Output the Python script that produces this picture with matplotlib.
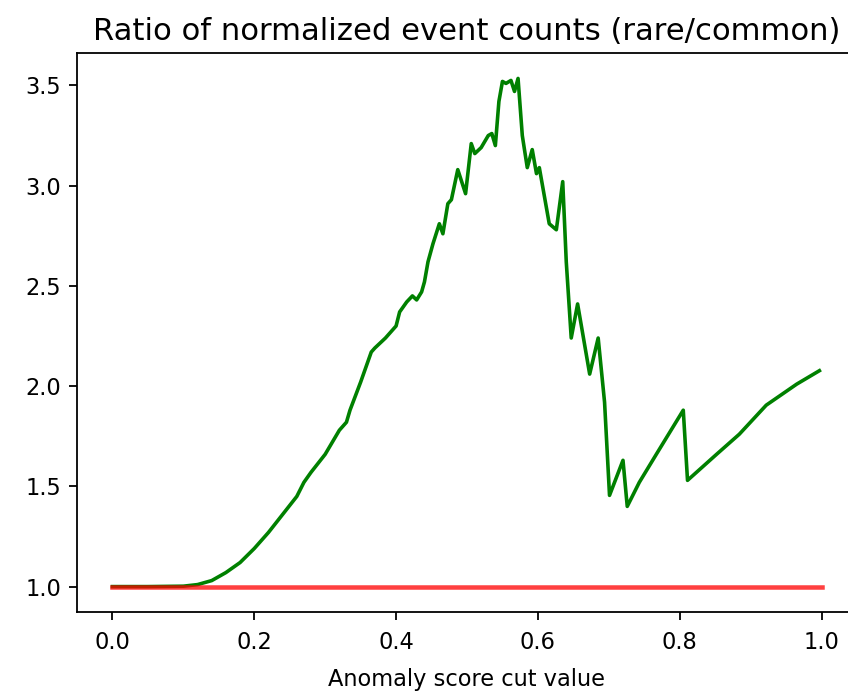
import matplotlib
matplotlib.use("Agg")
import matplotlib.pyplot as plt

# anomaly score cut values and the rare/common ratio of normalized counts
cut_values = [0.0, 0.05, 0.10, 0.12, 0.14, 0.16, 0.18, 0.20, 0.22, 0.24,
              0.26, 0.27, 0.28, 0.30, 0.32, 0.33, 0.335, 0.35, 0.365, 0.37,
              0.385, 0.40, 0.405, 0.415, 0.423, 0.429, 0.436, 0.44, 0.445, 0.452,
              0.461, 0.466, 0.473, 0.478, 0.487, 0.498, 0.506, 0.511, 0.52, 0.53,
              0.535, 0.54, 0.545, 0.55, 0.555, 0.562, 0.567, 0.572, 0.578, 0.585,
              0.592, 0.598, 0.602, 0.616, 0.626, 0.635, 0.640, 0.647, 0.656, 0.673,
              0.685, 0.694, 0.701, 0.720, 0.726, 0.743, 0.767, 0.805, 0.811, 0.852,
              0.884, 0.922, 0.965, 0.997]
ratio = [1.0, 1.0, 1.002, 1.01, 1.03, 1.07, 1.12, 1.19, 1.27, 1.36,
         1.45, 1.52, 1.57, 1.66, 1.78, 1.82, 1.88, 2.02, 2.17, 2.19,
         2.24, 2.30, 2.37, 2.42, 2.45, 2.43, 2.47, 2.52, 2.62, 2.71,
         2.81, 2.76, 2.91, 2.93, 3.08, 2.96, 3.21, 3.16, 3.19, 3.25,
         3.26, 3.20, 3.42, 3.52, 3.51, 3.525, 3.47, 3.535, 3.25, 3.09,
         3.18, 3.06, 3.09, 2.81, 2.78, 3.02, 2.62, 2.24, 2.41, 2.06,
         2.24, 1.92, 1.455, 1.63, 1.40, 1.52, 1.66, 1.88, 1.53, 1.66,
         1.76, 1.905, 2.01, 2.077]

# reference level: ratio of one
base_x = [0.0, 1.0]
base_y = [1.0, 1.0]

fig = plt.figure(figsize=(848 / 162, 692 / 162), dpi=162)
ax = fig.add_axes([0.0908, 0.1156, 0.9198, 0.8078])

ax.plot(cut_values, ratio, color="green", lw=1.6)
ax.plot(base_x, base_y, color="red", alpha=0.75, lw=2.0)

ax.set_title("Ratio of normalized event counts (rare/common)", fontsize=13.6)
ax.set_xlabel("Anomaly score cut value", labelpad=6)
ax.tick_params(axis="x", pad=5)

fig.savefig("out.png", dpi=162)
